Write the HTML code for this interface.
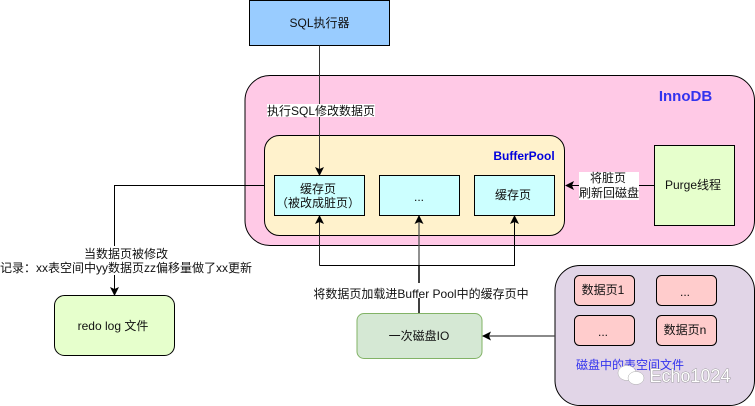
<!DOCTYPE html>
<html><head><meta charset="utf-8"><style>
html,body{margin:0;padding:0;background:#fff;width:755px;height:406px;overflow:hidden}
svg{display:block}
text{font-family:"Liberation Sans","Noto Sans CJK SC",sans-serif;font-size:12px;fill:#111;text-anchor:middle}
</style></head><body>
<svg width="755" height="406" viewBox="0 0 755 406" xmlns="http://www.w3.org/2000/svg">
<defs><marker id="a" markerWidth="10" markerHeight="10" refX="8" refY="4.5" orient="auto" markerUnits="userSpaceOnUse"><path d="M0 0L9 4.5L0 9L2 4.5Z" fill="#000"/></marker></defs>
<g stroke="#000" stroke-width="1">
<rect x="249.5" y="0.5" width="140" height="45" fill="#99ccff"/>
<rect x="245" y="75.5" width="509.5" height="170" rx="25" fill="#ffc9e6"/>
<rect x="264.5" y="135.5" width="300" height="100" rx="15" fill="#fff2cc"/>
<rect x="274.5" y="175.5" width="90" height="40" fill="#ccffff"/>
<rect x="379.5" y="175.5" width="80" height="40" fill="#ccffff"/>
<rect x="474.5" y="175.5" width="80" height="40" fill="#ccffff"/>
<rect x="654.5" y="145.5" width="80" height="80" fill="#e6ffcc"/>
<rect x="54.5" y="295.5" width="120" height="60" rx="10" fill="#e6ffcc"/>
<rect x="357" y="313.5" width="125" height="45" rx="7" fill="#d5e8d4" stroke="#82b366"/>
<rect x="555" y="265.5" width="199.5" height="140" rx="25" fill="#e1d5e7"/>
<rect x="574.5" y="275.5" width="60" height="30" rx="5" fill="#ffcccc"/>
<rect x="656.5" y="275.5" width="60" height="30" rx="5" fill="#ffcccc"/>
<rect x="574.5" y="315.5" width="60" height="30" rx="5" fill="#ffcccc"/>
<rect x="656.5" y="315.5" width="60" height="30" rx="5" fill="#ffcccc"/>
</g>
<g fill="none" stroke="#000" stroke-width="1">
<path d="M319.5 45.5V175" stroke="#333" marker-end="url(#a)"/>
<path d="M264.5 185.5H114.5V295" marker-end="url(#a)"/>
<path d="M319.5 265.5V216" stroke="#222" marker-end="url(#a)"/>
<path d="M319.5 265.5H514.5V216" marker-end="url(#a)"/>
<path d="M419 265.5V216" stroke="#555" stroke-width="1.3" marker-end="url(#a)"/>
<path d="M419 265V313" stroke="#000" stroke-width="1.5"/>
<path d="M654.5 185.5H566" marker-end="url(#a)"/>
<path d="M555 336H483" stroke="#444" stroke-width="1.3" marker-end="url(#a)"/>
</g>
<rect x="267" y="104" width="108" height="13" fill="#fff"/>
<rect x="579" y="172" width="60" height="28" fill="#fff"/>
<rect x="1" y="246" width="252" height="29" fill="#fff"/>
<rect x="314" y="283" width="215" height="15" fill="#fff"/>
<text x="319.5" y="27">SQL执行器</text>
<text x="321" y="115">执行SQL修改数据页</text>
<text x="685.5" y="101" style="font-size:15px;font-weight:bold;fill:#3333ee">InnoDB</text>
<text x="524" y="160" style="font-weight:bold;font-size:12px;fill:#0000dd">BufferPool</text>
<text x="318" y="193">缓存页</text>
<text x="318" y="207">（被改成脏页）</text>
<text x="419" y="201">...</text>
<text x="513" y="199">缓存页</text>
<text x="608" y="182">将脏页</text>
<text x="609" y="197">刷新回磁盘</text>
<text x="693" y="189">Purge线程</text>
<text x="126" y="258">当数据页被修改</text>
<text x="126" y="272">记录：xx表空间中yy数据页zz偏移量做了xx更新</text>
<text x="113" y="330">redo log 文件</text>
<text x="421" y="298">将数据页加载进Buffer Pool中的缓存页中</text>
<text x="419" y="340">一次磁盘IO</text>
<text x="603" y="294">数据页1</text>
<text x="685" y="296">...</text>
<text x="603" y="336">...</text>
<text x="685" y="334">数据页n</text>
<text x="630" y="369" style="fill:#3333ee">磁盘中的表空间文件</text>
<ellipse cx="627" cy="373" rx="9" ry="7.5" fill="#fff" stroke="#aaa" stroke-width="0.5"/>
<ellipse cx="636" cy="378" rx="8" ry="6.5" fill="#fff" stroke="#aaa" stroke-width="0.5"/>
<text x="690" y="382" style="font-size:18px;fill:#fff;stroke:#888;stroke-width:0.8;paint-order:stroke">Echo1024</text>
</svg>
</body></html>
